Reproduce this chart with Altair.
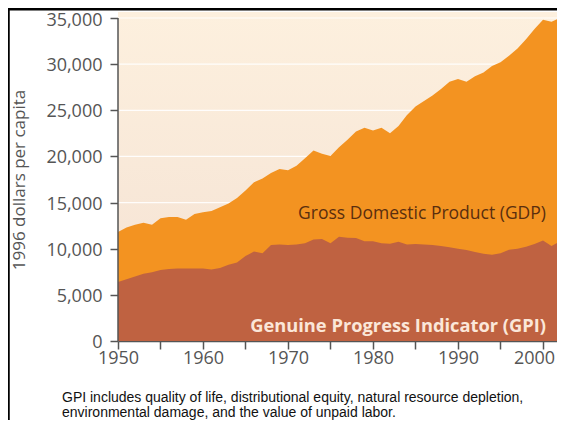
import altair as alt
import pandas as pd

years = list(range(1950, 2003))
gdp = [11800, 12300, 12600, 12800, 12600, 13300, 13450, 13450, 13150, 13750,
       13950, 14100, 14500, 14900, 15500, 16300, 17200, 17600, 18200, 18650,
       18500, 19000, 19800, 20650, 20300, 20050, 21000, 21800, 22700, 23100,
       22800, 23100, 22500, 23300, 24500, 25400, 26000, 26600, 27300, 28100,
       28400, 28100, 28700, 29100, 29800, 30200, 30900, 31700, 32700, 33800,
       34800, 34600, 35000]
gpi = [6400, 6700, 7000, 7300, 7450, 7700, 7800, 7850, 7850, 7850,
       7850, 7750, 7900, 8250, 8500, 9200, 9700, 9500, 10400, 10450,
       10400, 10450, 10600, 11000, 11050, 10600, 11300, 11200, 11150, 10800,
       10800, 10600, 10550, 10750, 10450, 10500, 10450, 10400, 10300, 10150,
       10000, 9850, 9650, 9450, 9350, 9500, 9900, 10000, 10200, 10500,
       10900, 10300, 10800]
y_ticks = [0, 5000, 10000, 15000, 20000, 25000, 30000, 35000]
x_ticks = list(range(1950, 2001, 5))
grid_vals = [5000, 10000, 15000, 20000, 25000, 30000, 35000]

gdp_label = "Gross Domestic Product (GDP)"
gpi_label = "Genuine Progress Indicator (GPI)"
y_title = "1996 dollars per capita"
caption = ["GPI includes quality of life, distributional equity, natural resource depletion,",
           "environmental damage, and the value of unpaid labor."]

W, H = 439, 329
XMAX = 1950 + W / 8.5
df = pd.DataFrame({"year": years, "gdp": gdp, "gpi": gpi})
one = pd.DataFrame({"a": [0]})

FONT = "Open Sans"
AX = "#555555"

xs = alt.Scale(domain=[1950, XMAX], nice=False, zero=False)
ys = alt.Scale(domain=[0, 35650], nice=False)

bg = alt.Chart(one).mark_rect(
    color=alt.Gradient(gradient="linear",
                       stops=[alt.GradientStop(color="#fdf0de", offset=0),
                              alt.GradientStop(color="#f4e1d3", offset=1)],
                       x1=0, x2=0, y1=0, y2=1)
).encode(x=alt.value(0), x2=alt.value(W), y=alt.value(0), y2=alt.value(H))

grid = alt.Chart(pd.DataFrame({"v": grid_vals})).mark_rule(
    color="white", strokeWidth=1.2, opacity=0.9
).encode(y=alt.Y("v:Q", scale=ys), x=alt.value(0), x2=alt.value(W))

x_axis = alt.Axis(values=x_ticks, format="d",
                  labelExpr="datum.value % 10 == 0 ? datum.label : ''",
                  labelOffset={"condition": {"test": "datum.value == 2000", "value": -9},
                               "value": 0},
                  labelFont=FONT, labelFontSize=18, labelColor=AX,
                  tickSize=8, tickColor=AX, tickWidth=1.5,
                  domainColor=AX, domainWidth=1.5, labelPadding=0,
                  grid=False, title=None, labelFlush=False)
y_axis = alt.Axis(values=y_ticks, format=",d",
                  labelFont=FONT, labelFontSize=18, labelColor=AX,
                  tickSize=8, tickColor=AX, tickWidth=1.5,
                  labelOffset={"condition": {"test": "datum.value == 35000", "value": 3},
                               "value": 1.5},
                  domain=False, labelPadding=8, grid=False, title=None)

area_gdp = alt.Chart(df).mark_area(color="#f39321", opacity=1, clip=True).encode(
    x=alt.X("year:Q", scale=xs, axis=x_axis),
    y=alt.Y("gdp:Q", scale=ys, axis=y_axis),
)
area_gpi = alt.Chart(df).mark_area(color="#bf6241", opacity=1, clip=True).encode(
    x=alt.X("year:Q", scale=xs),
    y=alt.Y("gpi:Q", scale=ys),
)

y_domain = alt.Chart(one).mark_rule(color=AX, strokeWidth=1.5).encode(
    x=alt.value(0), y=alt.value(H - 35000 * H / 35650), y2=alt.value(H))

txt_gdp = alt.Chart(one).mark_text(
    text=gdp_label, font=FONT, fontSize=17.5, color="#5a2e0e",
    align="right", baseline="alphabetic"
).encode(x=alt.value(428), y=alt.value(207))
txt_gpi = alt.Chart(one).mark_text(
    text=gpi_label, font=FONT, fontSize=18.3, fontWeight="bold", color="#fbe7d9",
    align="right", baseline="alphabetic"
).encode(x=alt.value(428), y=alt.value(320))

title = alt.Chart(one).mark_text(
    text=y_title, font=FONT, fontSize=17, color=AX, angle=270,
    align="center", baseline="middle"
).encode(x=alt.value(-98), y=alt.value(168))

cap_df = pd.DataFrame({"t": caption, "yy": [390, 405]})
cap = alt.Chart(cap_df).mark_text(
    font="Liberation Sans", fontSize=14, color="#111111",
    align="left", baseline="alphabetic"
).encode(text="t:N", x=alt.value(-56), y=alt.Y("yy:Q", scale=None, axis=None))

frame_top = alt.Chart(one).mark_rule(color="black", strokeWidth=2.5).encode(
    x=alt.value(-112), x2=alt.value(W + 10), y=alt.value(-2.8))
frame_left = alt.Chart(one).mark_rule(color="black", strokeWidth=2.5).encode(
    x=alt.value(-109.5), y=alt.value(-4), y2=alt.value(420))

chart = alt.layer(
    bg, grid, area_gdp, area_gpi, y_domain, txt_gdp, txt_gpi, title, cap,
    frame_top, frame_left
).properties(
    width=W, height=H,
    autosize=alt.AutoSizeParams(type="none"),
    padding={"left": 110, "top": 4, "right": 0, "bottom": 79},
    background="white",
).configure_view(stroke=None)

chart.save("out.html", embed_options={"renderer": "svg", "actions": False})
